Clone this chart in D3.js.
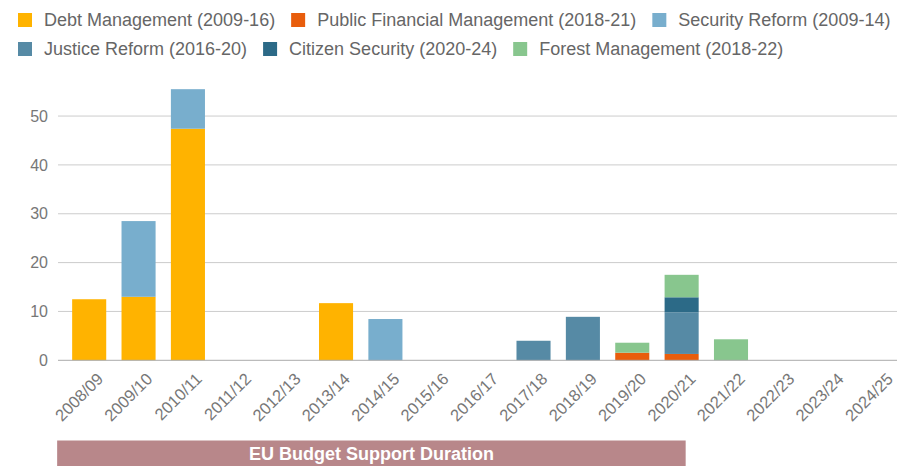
<!DOCTYPE html>
<html>
<head>
<meta charset="utf-8">
<script src="https://cdn.jsdelivr.net/npm/d3@7"></script>
<style>
  html, body { margin: 0; padding: 0; background: #fff; }
  svg { display: block; font-family: "Liberation Sans", Arial, sans-serif; }
</style>
</head>
<body>
<svg id="chart" width="905" height="466"></svg>
<script>
// Fiscal years on the x axis
const years = ["2008/09","2009/10","2010/11","2011/12","2012/13","2013/14","2014/15","2015/16",
  "2016/17","2017/18","2018/19","2019/20","2020/21","2021/22","2022/23","2023/24","2024/25"];

// Programme names (legend labels)
const programmes = ["Debt Management (2009-16)", "Public Financial Management (2018-21)",
  "Security Reform (2009-14)", "Justice Reform (2016-20)", "Citizen Security (2020-24)",
  "Forest Management (2018-22)"];

// Disbursements per year, one array per programme (stack order bottom to top)
const debtManagement     = [12.5, 13.0, 47.4, 0, 0, 11.7, 0,   0, 0, 0,   0,   0,    0,   0,   0, 0, 0];
const publicFinancial    = [0,    0,    0,    0, 0, 0,    0,   0, 0, 0,   0,   1.55, 1.3, 0,   0, 0, 0];
const securityReform     = [0,    15.5, 8.1,  0, 0, 0,    8.45,0, 0, 0,   0,   0,    0,   0,   0, 0, 0];
const justiceReform      = [0,    0,    0,    0, 0, 0,    0,   0, 0, 4.0, 8.9, 0,    8.5, 0,   0, 0, 0];
const citizenSecurity    = [0,    0,    0,    0, 0, 0,    0,   0, 0, 0,   0,   0,    3.1, 0,   0, 0, 0];
const forestManagement   = [0,    0,    0,    0, 0, 0,    0,   0, 0, 0,   0,   2.05, 4.6, 4.3, 0, 0, 0];

const yTicks = [0, 10, 20, 30, 40, 50];
const bannerLabel = "EU Budget Support Duration";
const bannerYears = ["2008/09", "2020/21"];

const colors = ["#FFB300", "#E85D0C", "#78AECD", "#568AA5", "#2C6A87", "#88C68E"];
const seriesValues = [debtManagement, publicFinancial, securityReform, justiceReform, citizenSecurity, forestManagement];

const svg = d3.select("#chart");

// Table for the stack layout
const keys = programmes;
const table = years.map((yr, i) => {
  const row = { year: yr };
  keys.forEach((k, j) => { row[k] = seriesValues[j][i]; });
  return row;
});
const stacked = d3.stack().keys(keys)(table);

const plotLeft = 58, plotRight = 897;
const x = d3.scaleBand().domain(years).range([64.5, 903.8]).paddingInner(0.31).paddingOuter(0.155);
const y = d3.scaleLinear().domain([0, 60]).range([360.3, 67.2]);

// Gridlines
svg.append("g").selectAll("line").data(yTicks.filter(d => d > 0)).join("line")
  .attr("x1", plotLeft).attr("x2", plotRight)
  .attr("y1", d => y(d)).attr("y2", d => y(d))
  .attr("stroke", "#cccccc").attr("stroke-width", 1);

// Y axis labels
svg.append("g").selectAll("text").data(yTicks).join("text")
  .attr("x", 48).attr("y", d => y(d)).attr("dy", "0.35em")
  .attr("text-anchor", "end").attr("font-size", 16).attr("fill", "#777")
  .text(d => d);

// Stacked bars
svg.append("g").selectAll("g").data(stacked).join("g")
  .attr("fill", (d, i) => colors[i])
  .selectAll("rect").data(d => d.filter(s => s[1] - s[0] > 0)).join("rect")
  .attr("x", d => x(d.data.year))
  .attr("width", x.bandwidth())
  .attr("y", d => y(d[1]))
  .attr("height", d => y(d[0]) - y(d[1]));

// Baseline
svg.append("line").attr("x1", plotLeft).attr("x2", plotRight)
  .attr("y1", y(0)).attr("y2", y(0)).attr("stroke", "#aaaaaa").attr("stroke-width", 1);

// Rotated x labels
svg.append("g").selectAll("text").data(years).join("text")
  .attr("transform", d => `translate(${x(d) + x.bandwidth() / 2 + 15},380) rotate(-45)`)
  .attr("text-anchor", "end").attr("font-size", 16.5).attr("fill", "#777")
  .text(d => d);

// Legend, two rows
const legendRows = [[0, 1, 2], [3, 4, 5]];
const rowY = [20, 49];
legendRows.forEach((row, r) => {
  let cx = 18;
  row.forEach(idx => {
    const g = svg.append("g");
    g.append("rect").attr("x", cx).attr("y", rowY[r] - 7).attr("width", 14).attr("height", 14)
      .attr("fill", colors[idx]);
    const t = g.append("text").attr("x", cx + 26).attr("y", rowY[r]).attr("dy", "0.35em")
      .attr("font-size", 18).attr("fill", "#666").text(programmes[idx]);
    cx += 26 + t.node().getComputedTextLength() + 16;
  });
});

// Budget support duration banner
const bx0 = x(bannerYears[0]) - 15;
const bx1 = x(bannerYears[1]) + x.bandwidth() - 13;
svg.append("rect").attr("x", bx0).attr("y", 440.5).attr("width", bx1 - bx0).attr("height", 26)
  .attr("fill", "#B8878A");
svg.append("text").attr("x", (bx0 + bx1) / 2).attr("y", 453.5).attr("dy", "0.35em")
  .attr("text-anchor", "middle").attr("font-size", 18).attr("font-weight", "bold")
  .attr("fill", "#fff").text(bannerLabel);
</script>
</body>
</html>
